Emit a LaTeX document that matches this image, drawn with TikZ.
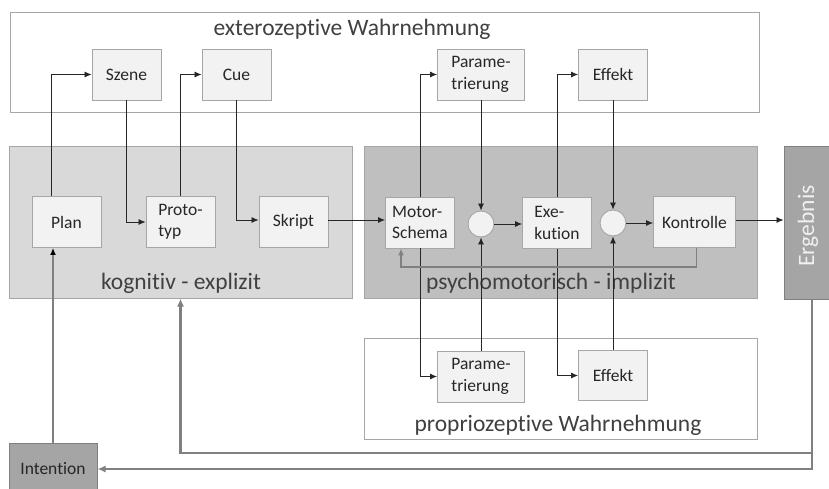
\documentclass[tikz,border=0pt]{standalone}
\usepackage{fontspec}
\setmainfont{Carlito}[Ligatures=NoCommon]
\usetikzlibrary{arrows.meta}

\definecolor{boxgray}{HTML}{A6A6A6}
\definecolor{nodefill}{HTML}{F2F2F2}
\definecolor{kogfill}{HTML}{D9D9D9}
\definecolor{psyfill}{HTML}{BFBFBF}
\definecolor{darkfill}{HTML}{A5A5A5}
\definecolor{labelgray}{HTML}{404040}
\definecolor{loopgray}{HTML}{808080}

\tikzset{
  area/.style={draw=boxgray,line width=1pt,inner sep=0pt},
  arealabel/.style={text=labelgray,inner sep=0pt,font=\fontsize{23.5}{28}\selectfont},
  stage/.style={draw=boxgray,fill=nodefill,line width=0.9pt,minimum width=69pt,minimum height=51pt,
    align=left,inner sep=2pt,text=black!85,font=\fontsize{17.5}{21.5}\selectfont},
  sumpoint/.style={circle,draw=boxgray,fill=nodefill,line width=0.9pt,minimum size=26pt,inner sep=0pt},
  conn/.style={draw=black!85,line width=0.8pt,-{Latex[length=7pt,width=6pt]}},
  fbloop/.style={draw=loopgray,line width=1.6pt,-{Latex[length=7pt,width=6pt]}},
  fbouter/.style={draw=loopgray,line width=2.2pt,-{Latex[length=8pt,width=7pt]}},
}

\begin{document}
\begin{tikzpicture}[x=1pt,y=-1pt]
\useasboundingbox[fill=white] (0,0) rectangle (829,488);

% areas
\node[area,fill=white,minimum width=749pt,minimum height=100pt] (ext) at (384.5,62) {};
\node[area,fill=kogfill,minimum width=343pt,minimum height=152pt] (kog) at (180.5,222) {};
\node[area,fill=psyfill,minimum width=393pt,minimum height=152pt] (psy) at (560.5,222) {};
\node[area,fill=white,minimum width=393pt,minimum height=101pt] (prop) at (560.5,388.5) {};
\node[area,fill=darkfill,draw=loopgray,minimum width=56pt,minimum height=153pt] (erg) at (812,222.5) {};
\node[area,fill=darkfill,draw=loopgray,minimum width=88pt,minimum height=52pt,text=black!85,
  font=\fontsize{17.5}{21.5}\selectfont] (intention) at (53,469) {Intention};

\node[arealabel] (extlabel) at (352,29) {exterozeptive Wahrnehmung};
\node[arealabel] (koglabel) at (181,283) {kognitiv - explizit};
\node[arealabel] (psylabel) at (551,283) {psychomotorisch - implizit};
\node[arealabel] (proplabel) at (558,425) {propriozeptive Wahrnehmung};
\node[arealabel,text=white!88!gray,rotate=90] (erglabel) at (808,226) {Ergebnis};

% stages
\node[stage] (szene) at (126.5,74.5) {Szene};
\node[stage] (cue) at (236.5,74.5) {Cue};
\node[stage,minimum width=87pt] (paramtop) at (481,74.5) {Parame-\\trierung};
\node[stage] (efftop) at (613,74.5) {Effekt};

\node[stage] (plan) at (66.5,222) {Plan};
\node[stage] (proto) at (180.5,222) {Proto-\\typ};
\node[stage] (skript) at (293.5,222) {Skript};
\node[stage] (motor) at (420,222.5) {Motor-\\Schema};
\node[sumpoint] (sum1) at (481,224) {};
\node[stage] (exek) at (557,223) {Exe-\\kution};
\node[sumpoint] (sum2) at (613,223) {};
\node[stage,minimum width=82pt] (kontrolle) at (694.5,222) {Kontrolle};

\node[stage,minimum width=87pt] (parambot) at (481,376.5) {Parame-\\trierung};
\node[stage,minimum height=50pt] (effbot) at (613,375.5) {Effekt};

% connectors
\draw[conn] ([xshift=-15pt]plan.north) |- (szene.west);
\draw[conn] (szene.south) |- (proto.west);
\draw[conn] (proto.north) |- (cue.west);
\draw[conn] (cue.south) |- ([yshift=2pt]skript.west);
\draw[conn] ([yshift=2pt]skript.east) -- ([yshift=2pt]skript.east -| motor.west);
\draw[conn] (motor.north) |- (paramtop.west);
\draw[conn] (motor.south) |- (parambot.west);
\draw[conn] (paramtop.south) -- (sum1.north);
\draw[conn] (parambot.north) -- (sum1.south);
\draw[conn] (sum1.east) -- (sum1.east -| exek.west);
\draw[conn] (exek.north) |- (efftop.west);
\draw[conn] (exek.south) |- (effbot.west);
\draw[conn] (efftop.south) -- (sum2.north);
\draw[conn] (effbot.north) -- (sum2.south);
\draw[conn] (sum2.east) -- (sum2.east -| kontrolle.west);
\draw[conn] ([yshift=2pt]kontrolle.east) -- ([yshift=2pt]kontrolle.east -| erg.west);
\draw[fbloop] ([xshift=2pt]kontrolle.south) -- ++(0,19) -| ([xshift=-19pt]motor.south);
\draw[draw=loopgray,line width=1.2pt,-{Latex[length=7pt,width=6pt,black]}] (intention.north) -- (intention.north |- plan.south);

\coordinate (split) at (erg.south |- 0,453);
\draw[fbouter] (erg.south) |- (intention.east);
\draw[fbouter] (split) -| (kog.south -| proto);
\end{tikzpicture}
\end{document}
